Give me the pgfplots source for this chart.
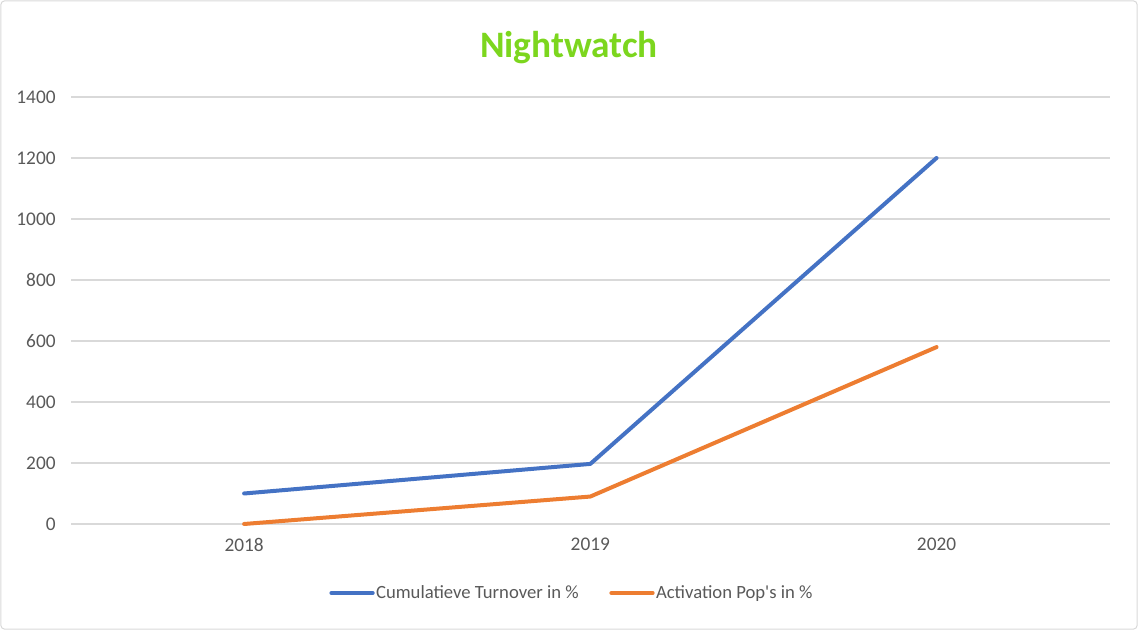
\documentclass[border=0pt]{standalone}
\usepackage{pgfplots}
\pgfplotsset{compat=1.18}
\usepackage{fontspec}
\setmainfont{Carlito}
\definecolor{cblue}{HTML}{4472C4}
\definecolor{corange}{HTML}{ED7D31}
\definecolor{cgrid}{HTML}{D9D9D9}
\definecolor{ctext}{HTML}{595959}
\definecolor{ctitle}{RGB}{124,214,30}
\begin{document}
\begin{tikzpicture}[x=1pt,y=1pt]
\useasboundingbox (0,0) rectangle (853.5,472.5);
\draw[cgrid, line width=0.75pt, rounded corners=3pt] (0.6,0.6) rectangle (852.9,471.9);
\node[font=\fontsize{28}{32}\selectfont\bfseries, text=ctitle] at (426.75,437) {Nightwatch};
\begin{axis}[
  at={(53.25pt,79.5pt)}, anchor=south west,
  scale only axis, width=779pt, height=320.25pt,
  xmin=-0.5, xmax=2.5, ymin=0, ymax=1400,
  xtick={0,1,2}, xticklabels={2018,2019,2020},
  ytick={0,200,...,1400},
  ymajorgrids, grid style={cgrid, line width=0.9pt},
  axis line style={draw=none},
  axis x line*=bottom,
  x axis line style={cgrid, line width=0.9pt},
  major tick length=0pt,
  tick label style={font=\fontsize{14.5}{16}\selectfont, text=ctext},
  xticklabel style={yshift=-7pt},
  yticklabel style={xshift=-8pt},
  /pgf/number format/assume math mode=true,
  /pgf/number format/1000 sep={},
  legend columns=2,
  legend style={draw=none, fill=none, at={(0.482,-0.1616)}, anchor=center,
    font=\fontsize{14}{16}\selectfont, text=ctext,
    nodes={inner xsep=1pt},
    /tikz/every even column/.append style={column sep=22pt}},
  legend image code/.code={\draw[#1, line cap=round] (0pt,0pt) -- (31pt,0pt);},
  clip=false,
]
\addplot[cblue, line width=3pt, line cap=round, line join=round] coordinates {(0,100) (1,197) (2,1200)};
\addlegendentry{Cumulatieve Turnover in \%}
\addplot[corange, line width=3pt, line cap=round, line join=round] coordinates {(0,0) (1,90) (2,580)};
\addlegendentry{Activation Pop\textquotesingle s in \%}
\end{axis}
\end{tikzpicture}
\end{document}
